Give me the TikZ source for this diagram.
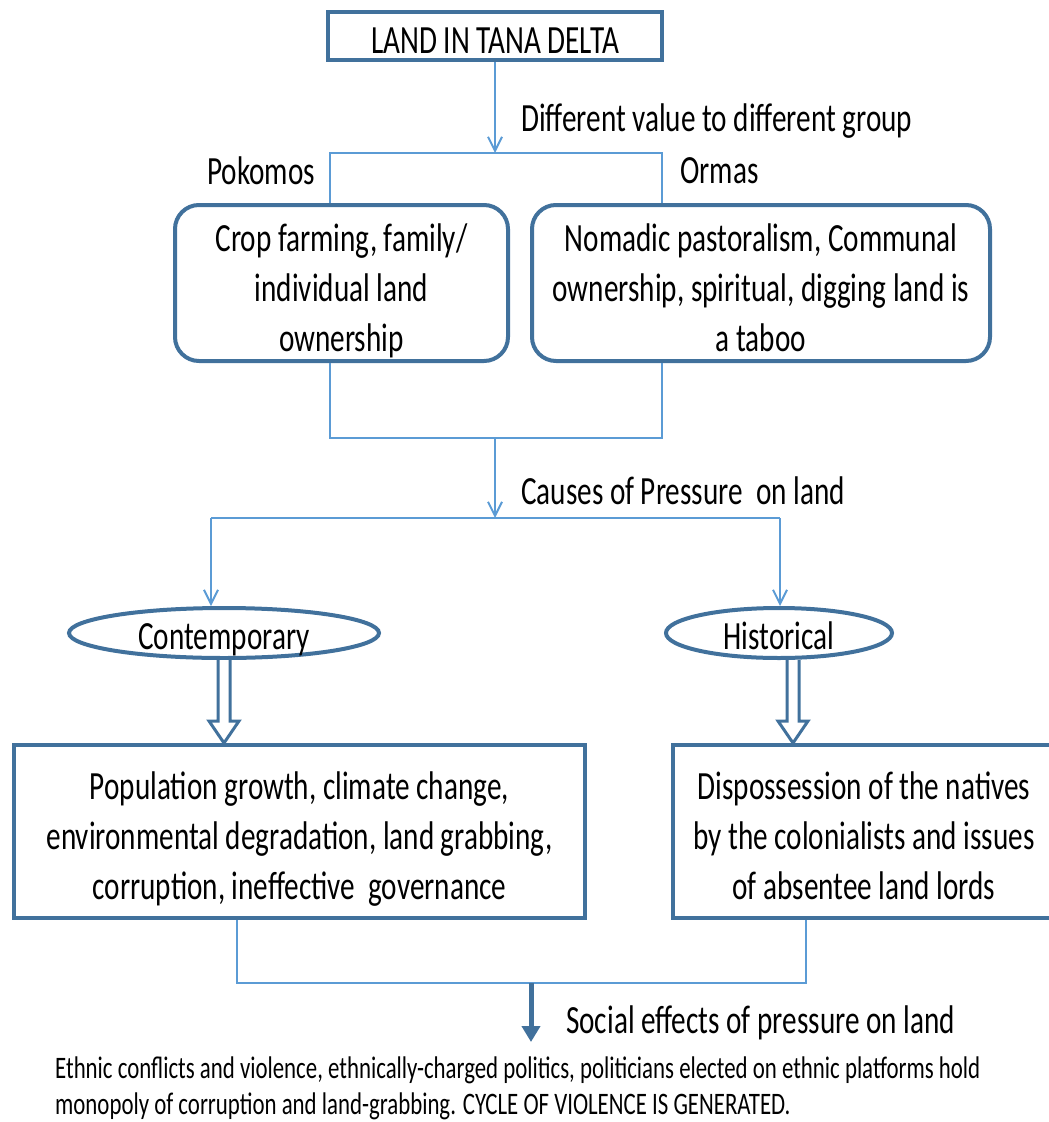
\documentclass[tikz,border=0pt]{standalone}
\usepackage{fontspec}
\setmainfont{Carlito}[FakeStretch=0.73]
\usetikzlibrary{shapes,arrows.meta,positioning,calc}
\definecolor{boxblue}{RGB}{65,113,156}
\definecolor{lineblue}{RGB}{91,155,213}

% outlined block arrow between two points on one vertical
\newcommand\hollowarrow[2]{%
  \draw[hollow] let \p1=(#1), \p2=(#2) in
    (\x1-6pt,\y1) -- (\x1-6pt,\y2+22pt) -- (\x1-15pt,\y2+22pt) -- (\x1,\y2)
    -- (\x1+15pt,\y2+22pt) -- (\x1+6pt,\y2+22pt) -- (\x1+6pt,\y1);}

\begin{document}
\begin{tikzpicture}[
            x=1pt, y=-1pt,
            every node/.style={font=\fontsize{40}{50}\selectfont, inner sep=0pt},
            topbox/.style={draw=boxblue, line width=4pt, rectangle, minimum width=334pt, minimum height=48pt, align=center, text height=34pt, text depth=0pt},
            groupbox/.style={draw=boxblue, line width=4pt, rectangle, rounded corners=24pt, minimum height=150pt, align=center, text height=146pt, text depth=10pt},
            causebox/.style={draw=boxblue, line width=4pt, rectangle, minimum height=173pt, align=center, text height=146pt, text depth=10pt},
            kind/.style={draw=boxblue, line width=4pt, ellipse, minimum height=50pt, text height=32pt, text depth=0pt},
            link/.style={draw=lineblue, line width=2pt},
            flow/.style={link, -{Straight Barb[length=14pt, width=14pt, line width=2pt]}},
            sidetext/.style={anchor=west},
            hollow/.style={draw=boxblue, line width=3pt, fill=white, line join=miter},
            bigarrow/.style={draw=boxblue, line width=5pt, -{Triangle[length=16pt, width=18pt]}},
            effects/.style={font=\fontsize{31.3}{36}\selectfont, align=left, anchor=west}
        ]
            \useasboundingbox (0,0) rectangle (1049,1122);

            \node[topbox] (land) at (495,36) {LAND IN TANA DELTA};
            \node[groupbox, minimum width=333pt] (pok) at (341.5,283) {Crop farming, family/\\individual land\\ownership};
            \node[groupbox, minimum width=458pt] (orm) at (761,283) {Nomadic pastoralism, Communal\\ownership, spiritual, digging land is\\a taboo};
            \node[kind, minimum width=310pt] (cont) at (224,633) {Contemporary};
            \node[kind, minimum width=226pt] (hist) at (779,633) {Historical};
            \node[causebox, minimum width=571pt] (pop) at (299.5,831.5) {Population growth, climate change,\\environmental degradation, land grabbing,\\corruption, ineffective\ \ governance};
            \node[causebox, minimum width=382pt] (disp) at (864,831.5) {Dispossession of the natives\\by the colonialists and issues\\of absentee land lords};

            \coordinate (split) at (495,153);
            \coordinate (splitL) at (330,153);
            \coordinate (splitR) at (662,153);
            \coordinate (joinL) at (330,438);
            \coordinate (joinR) at (662,438);
            \coordinate (join) at (495,438);
            \coordinate (fork) at (495,518);
            \coordinate (forkL) at (211,518);
            \coordinate (forkR) at (780,518);
            \coordinate (mergeL) at (237,983);
            \coordinate (mergeR) at (806,983);
            \coordinate (merge) at (531,983);
            \coordinate (effect) at (531,1042);

            \node[sidetext] (value) at (521,121) {Different value to different group};
            \node[sidetext] (pokname) at (207,171) {Pokomos};
            \node[sidetext] (ormname) at (680,171) {Ormas};
            \node[sidetext] (causes) at (521,491) {Causes of Pressure\ \ on land};
            \node[sidetext] (social) at (566,1023) {Social effects of pressure on land};
            \node[effects] (result) at (55,1088) {Ethnic conflicts and violence, ethnically-charged politics, politicians elected on ethnic platforms hold\\monopoly of corruption and land-grabbing. CYCLE OF VIOLENCE IS GENERATED.};

            \draw[flow] (land) -- (split);
            \draw[link] (splitL |- pok.north) -- (splitL) -- (splitR) -- (splitR |- orm.north);
            \draw[link] (joinL |- pok.south) -- (joinL) -- (joinR) -- (joinR |- orm.south);
            \draw[flow] (join) -- (fork);
            \draw[link] (forkL) -- (forkR);
            \draw[flow] (forkL) -- (forkL |- cont.north);
            \draw[flow] (forkR) -- (forkR |- hist.north);
            \hollowarrow{cont.south}{pop.north}
            \hollowarrow{[xshift=14pt]hist.south}{disp.north}
            \draw[link] (mergeL |- pop.south) -- (mergeL) -- (mergeR) -- (mergeR |- disp.south);
            \draw[bigarrow] (merge) -- (effect);
        \end{tikzpicture}
\end{document}
